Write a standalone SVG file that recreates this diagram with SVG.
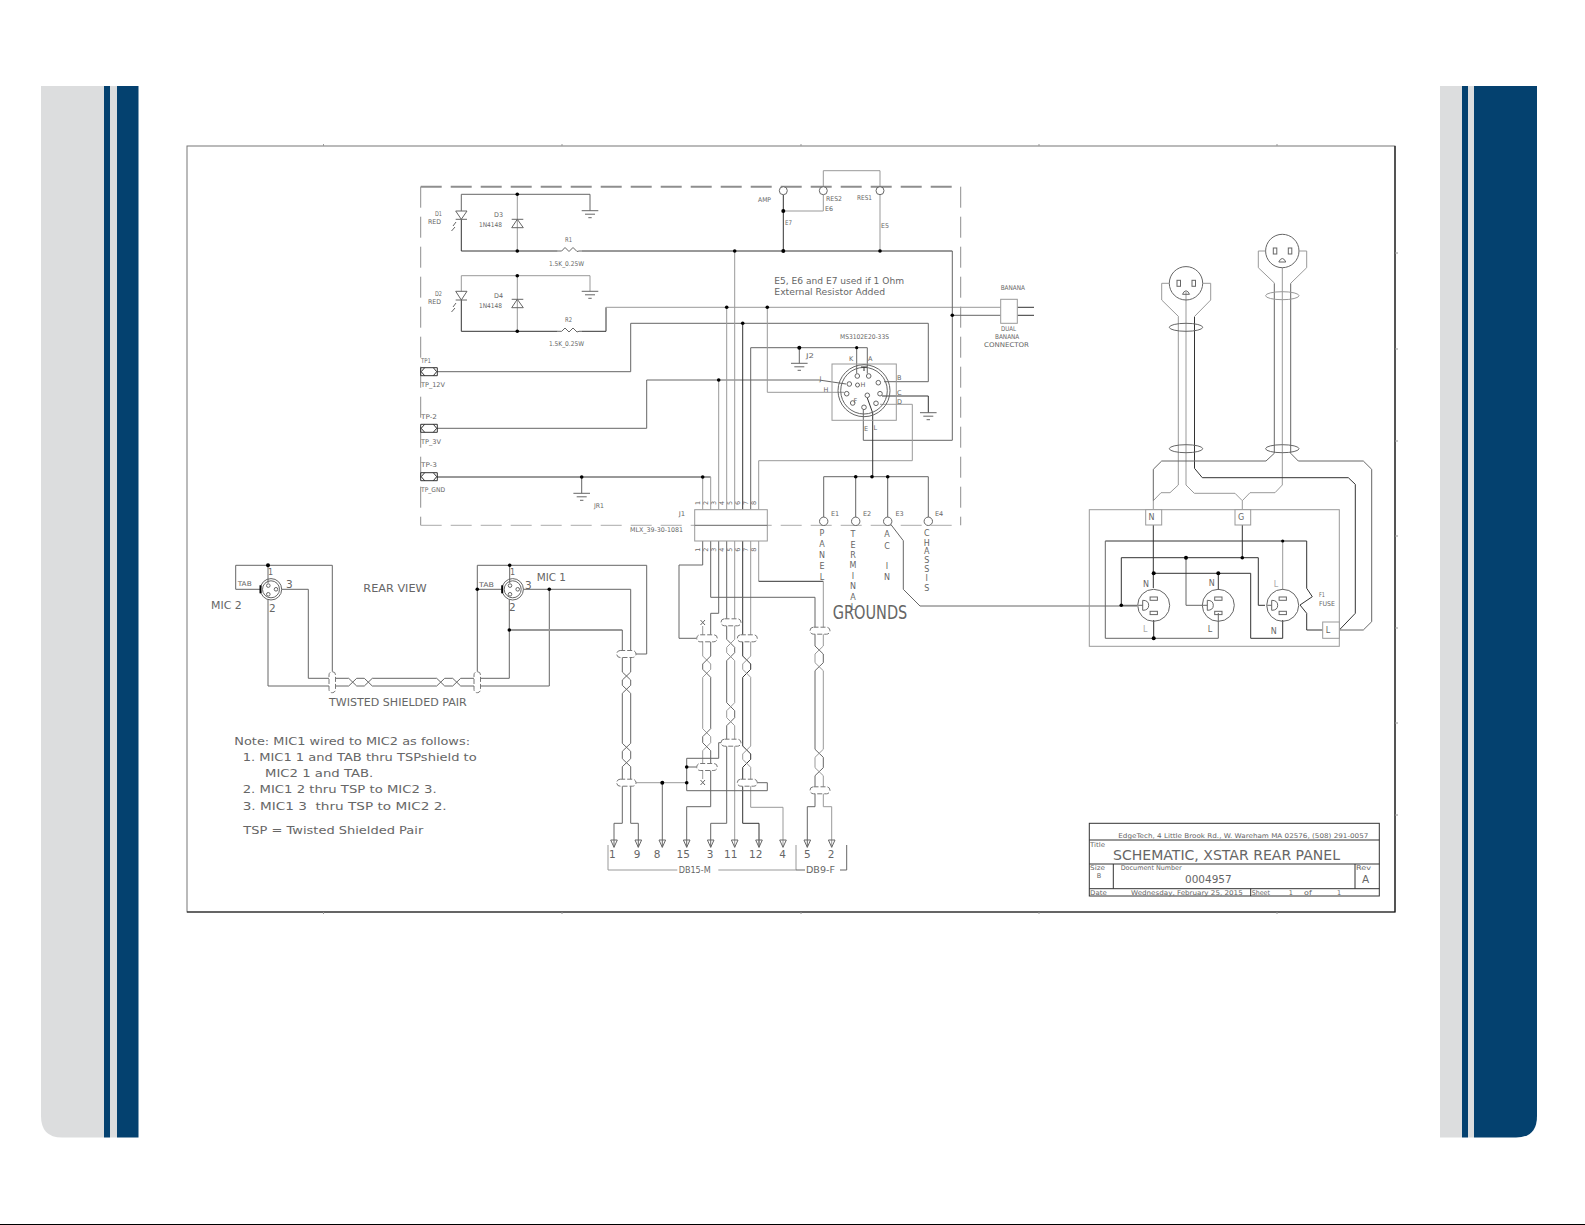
<svg xmlns="http://www.w3.org/2000/svg" width="1585" height="1225" viewBox="0 0 1585 1225">
<style>
.n{fill:none;stroke:#666;stroke-width:1}
.l{fill:none;stroke:#999;stroke-width:1}
.k{fill:none;stroke:#333;stroke-width:1}
.c{fill:#fff;stroke:#666;stroke-width:1}
.w{fill:#fff;stroke:#999;stroke-width:1}
.sh{fill:#fff;stroke:#777;stroke-width:1;stroke-dasharray:5 2}
.dot{fill:#000;stroke:none}
.gray{fill:#dcddde}
.blue{fill:#04416f}
text{font-family:"DejaVu Sans","Liberation Sans",sans-serif;fill:#666}
.s{font-size:6.5px}
.m{font-size:8px}
.b{font-size:10.5px}
.h{font-size:14px}
.g{font-size:19px}
.mid{text-anchor:middle}
.p{fill:#aaa}
</style>
<defs>
<g id="gnd"><path class="n" d="M-8.3 0H8.3M-5 3.5H5M-1.7 7H1.7"/></g>
<g id="tp"><path class="k" d="M0 -4H16.6V4H0ZM4 -4L0.5 0L4 4M12.6 -4L16 0L12.6 4"/></g>
<g id="sock"><circle class="n" r="16"/><rect class="n" x="-3.6" y="-8.3" width="7.3" height="3.3"/><rect class="n" x="-3.6" y="6" width="7.3" height="3.3"/><path class="n" d="M-15.5 0H-11M-11 -5V5M-11 -5Q-5 -5 -5 0Q-5 5 -11 5"/></g>
<g id="plug"><circle class="n" r="16.7"/><rect class="n" x="-9" y="-3" width="3.5" height="6"/><rect class="n" x="6" y="-3" width="3.5" height="6"/><path class="n" d="M-3.5 11H3.5Q2 7.5 0 7.5Q-2 7.5 -3.5 11Z"/></g>
<g id="xlr"><circle class="n" r="10.7"/><circle class="n" r="8.5"/><circle class="n" cx="-2.7" cy="-3.7" r="1.8"/><circle class="n" cx="-2.7" cy="5" r="1.8"/><circle class="n" cx="5" cy="0" r="1.8"/><path d="M-10.5 -4V4" stroke="#000" stroke-width="2" fill="none"/></g>
<marker id="ah" markerUnits="userSpaceOnUse" markerWidth="10" markerHeight="10" refX="7.3" refY="4" orient="auto" overflow="visible"><path d="M0 0.7L7.3 4L0 7.3Z" fill="none" stroke="#666" stroke-width="1"/></marker>
</defs>

<g id="page">
<path class="gray" d="M41 86H104V1137.5H62Q41 1137.5 41 1116Z"/>
<rect class="blue" x="104" y="86" width="6" height="1051.5"/>
<rect class="gray" x="110" y="86" width="7" height="1051.5"/>
<rect class="blue" x="117" y="86" width="21.5" height="1051.5"/>
<rect class="gray" x="1440" y="86" width="22" height="1051.5"/>
<rect class="blue" x="1462" y="86" width="6" height="1051.5"/>
<rect class="gray" x="1468" y="86" width="6" height="1051.5"/>
<path class="blue" d="M1474 86H1537V1116Q1537 1137.5 1516 1137.5H1474Z"/>
<rect x="0" y="1224" width="1585" height="1" fill="#000"/>
</g>

<g id="frame">
<rect x="187" y="146" width="1208" height="766" fill="#fff" stroke="#777" stroke-width="1"/>
<path d="M1395 146V912H187" fill="none" stroke="#111" stroke-width="1.2"/>
<path class="l" d="M323.5 144V146M562 144V146M801 144V146M1039 144V146M1277 144V146M323.5 912V914M562 912V914M801 912V914M1039 912V914M1277 912V914M1395 253H1398M1395 349H1398M1395 441H1398M1395 536H1398M1395 628H1398M1395 723H1398M1395 815H1398"/>
<path d="M420.7 186.7H960.7" stroke="#8e8e8e" stroke-width="2" stroke-dasharray="21 9" fill="none"/>
<path d="M420.7 186.7V525.3M960.7 186.7V525.3" stroke="#8e8e8e" stroke-width="1" stroke-dasharray="21 9" fill="none"/>
<path d="M420.7 525.3H960.7" stroke="#aaa" stroke-width="1" stroke-dasharray="21 9" fill="none"/>
</g>

<g id="connectors">
<path class="n" d="M461.3 211V194.3H590V210.7"/>
<path class="k" d="M461.3 219.3V251H557.7M582 251H952.3"/>
<path class="l" d="M517.3 194.3V251"/>
<path class="l" d="M461.3 291.3V275.7H590V291.3"/>
<path class="k" d="M461.3 300V331.3H557.7M582 331.3H606V307.3"/>
<path class="l" d="M517.3 275.7V331.3"/>
<path class="l" d="M606 307.3H1000.7"/>
<path class="n" d="M952.3 315.3H1000.7"/>
<path class="n" d="M952.3 251V440.3H863.3V410"/>
<path class="k" d="M1017.3 307.3H1034M1017.3 315.3H1034"/>
<path class="n" d="M436.7 371.7H630.7V323.3H928.3V381.7H884"/>
<path class="n" d="M436.7 428.3H646.7V380H819L846 384"/>
<path class="k" d="M436.7 477H710.7"/>
<path class="n" d="M581.7 477V493.3"/>
<path class="l" d="M702.7 477V509.7M710.7 477V509.7M718.7 380V509.7M726.7 307.3V509.7M734.7 251V509.7"/>
<path class="k" d="M742.7 323.3V509.7"/>
<path class="n" d="M750.7 509.7V347.7H867.3V373.5M856.7 347.7V373.5"/>
<path class="n" d="M799.3 347.7V363.3"/>
<path class="l" d="M758.7 509.7V460.7H912.3V404.3H880"/>
<path class="l" d="M767.3 307.3V392.3H844"/>
<path class="k" d="M882 396H928.3V412.7"/>
<path class="k" d="M867.3 398L872.7 413V476.7"/>
<path class="n" d="M823.7 517V476.7H928.3V517M855.7 476.7V517M887.7 476.7V517"/>
<path class="n" d="M890.5 524L903.3 540.7V589.3L920 606H1137"/>
<path class="k" d="M783.3 195V251"/>
<path class="l" d="M783.3 211H823.3V195M823.3 186V170.7H880V186M880 195V251"/>
<path class="n" d="M235.7 589.3V565.3H332.3V671.7M235.7 589.3H260M268 565.3V583"/>
<path class="n" d="M281.7 589.3H308.3V678.3H348.7L356.7 686H364.3L372.3 678.3H436.7L444.7 686H452.7L460.7 678.3H509.3V600"/>
<path class="n" d="M268 600V686H348.7L356.7 678.3H364.3L372.3 686H436.7L444.7 678.3H452.7L460.7 686H549.3V589.3"/>
<path class="n" d="M477.3 671.7V565.3H646.7V654H636"/>
<path class="n" d="M477.3 589.3H501.7M509.7 565.3V583"/>
<path d="M509.3 630H622.3" stroke="#999" stroke-width="2" fill="none"/>
<path class="n" d="M622.3 630V672L630.7 680V685.3L622.3 693.3V743.3L630.7 751.3V758.7L622.3 766.7V823.3H614V847.3" marker-end="url(#ah)"/>
<path class="n" d="M523.3 589.3H630.7V672L622.3 680V685.3L630.7 693.3V743.3L622.3 751.3V758.7L630.7 766.7V823.3H638.3V847.3" marker-end="url(#ah)"/>
<path class="l" d="M702.7 626V656L710.7 664V669.3L702.7 677.3V728.7L710.7 736.7V742.7L702.7 750.7V779"/>
<path class="n" d="M718.7 541V613.3H710.7V656L702.7 664V669.3L710.7 677.3V728.7L702.7 736.7V742.7L710.7 750.7V806.7H686.7V847.3" marker-end="url(#ah)"/>
<path class="n" d="M726.7 541V639.3L734.7 647.3V652.7L726.7 660.7V702.7L734.7 710.7V717.7L726.7 725.7V823.3H710.7V847.3" marker-end="url(#ah)"/>
<path class="l" d="M734.7 541V639.3L726.7 647.3V652.7L734.7 660.7V702.7L726.7 710.7V717.7L734.7 725.7V847.3" marker-end="url(#ah)"/>
<path class="k" d="M742.7 541V656L750.7 664V669.3L742.7 677.3V746L750.7 754V759.3L742.7 767.3V823.3H759V847.3" marker-end="url(#ah)"/>
<path class="l" d="M750.7 541V656L742.7 664V669.3L750.7 677.3V746L742.7 754V759.3L750.7 767.3V807.3H783V847.3" marker-end="url(#ah)"/>
<path class="n" d="M710.7 541V597.3H815V646L823.3 654V662.7L815 670.7V749.3L823.3 757.3V767.7L815 775.7V806.7H807.3V847.3" marker-end="url(#ah)"/>
<path class="l" d="M758.7 541V581.3"/>
<path class="k" d="M758.7 581.3H823.3"/>
<path class="l" d="M823.3 581.3V646L815 654V662.7L823.3 670.7V749.3L815 757.3V767.7L823.3 775.7V806.7H831.7V847.3" marker-end="url(#ah)"/>
<path class="n" d="M702.7 541V565H679V638.3H696.7"/>
<path class="l" d="M636 782.7H686.7"/>
<path class="n" d="M662.3 782.7V847.3" marker-end="url(#ah)"/>
<path class="n" d="M686.7 782.7V790.7H767.3V782.7H757M686.7 782.7V758.3H718.7V742.7H721M686.7 767H696.7"/>
<path class="l" d="M1178.3 316.7V485L1170 492.7H1161L1153.3 500.7V509.7"/>
<path class="l" d="M1186 292V485L1194.3 493.3H1235L1242.3 500.7L1250 492.7H1275L1282.3 485V268"/>
<path class="k" d="M1194.5 316.7V468.3L1202.3 477.7H1348.3L1355.3 484.3V613.3L1339.3 630"/>
<path class="n" d="M1153.3 500.7V469.3L1161.7 461H1266L1274.3 453.3V283.3"/>
<path class="n" d="M1290.7 283.3V453.3L1298.3 461H1363.3L1371.7 469.3V621.7L1363.3 630H1339.3"/>
<path class="l" d="M1242.3 500.7V509.7"/>
<path class="k" d="M1153.3 525V588M1242.3 525V557.7"/>
<path class="k" d="M1105.3 541H1306.7V588.3L1312.3 596.7L1300 605L1306.7 613.3V630H1322.7"/>
<path class="n" d="M1105.3 541V638.3H1218.3V613"/>
<path class="k" d="M1153.7 620V638.3"/>
<path class="l" d="M1282.7 541V590"/>
<path class="k" d="M1121.3 605.3V557.7H1258.3V605.3H1265"/>
<path class="n" d="M1186 557.7V605.3H1202.7M1121.3 605.3H1137.3"/>
<path class="k" d="M1153.7 573.3H1250.7V638.3H1282.7V620M1218.3 573.3V590"/>
<g id="junctions">
<circle class="dot" cx="517.3" cy="194.3" r="1.8"/><circle class="dot" cx="517.3" cy="251" r="1.8"/>
<circle class="dot" cx="517.3" cy="275.7" r="1.8"/><circle class="dot" cx="517.3" cy="331.3" r="1.8"/>
<circle class="dot" cx="726.7" cy="307.3" r="1.8"/><circle class="dot" cx="734.7" cy="251" r="1.8"/>
<circle class="dot" cx="767.3" cy="307.3" r="1.8"/><circle class="dot" cx="783.3" cy="211" r="2"/>
<circle class="dot" cx="783.3" cy="251" r="2"/><circle class="dot" cx="880" cy="251" r="1.8"/>
<circle class="dot" cx="952.3" cy="315.3" r="1.8"/><circle class="dot" cx="742.7" cy="323.3" r="1.8"/>
<circle class="dot" cx="718.7" cy="380" r="1.8"/><circle class="dot" cx="581.7" cy="477" r="1.8"/>
<circle class="dot" cx="702.7" cy="477" r="1.8"/><circle class="dot" cx="799.3" cy="347.7" r="2"/>
<circle class="dot" cx="856.7" cy="347.7" r="1.6"/><circle class="dot" cx="855.7" cy="476.7" r="1.8"/>
<circle class="dot" cx="872" cy="476.7" r="1.8"/><circle class="dot" cx="887.7" cy="476.7" r="1.8"/>
<circle class="dot" cx="268" cy="565.3" r="2"/><circle class="dot" cx="509.7" cy="565.3" r="1.8"/>
<circle class="dot" cx="477.3" cy="589.3" r="1.8"/><circle class="dot" cx="549.3" cy="589.3" r="1.8"/>
<circle class="dot" cx="509.3" cy="630" r="1.8"/><circle class="dot" cx="662.3" cy="782.7" r="2"/>
<circle class="dot" cx="686.7" cy="782.7" r="1.8"/><circle class="dot" cx="686.7" cy="767" r="1.8"/>
<circle class="dot" cx="1121.3" cy="605.3" r="1.8"/><circle class="dot" cx="1186" cy="557.7" r="2"/>
<circle class="dot" cx="1242.3" cy="557.7" r="1.8"/><circle class="dot" cx="1153.7" cy="573.3" r="2"/>
<circle class="dot" cx="1218.3" cy="573.3" r="2"/><circle class="dot" cx="1153.7" cy="638.3" r="2"/>
<circle class="dot" cx="1282.7" cy="541" r="1.6"/>
</g>
</g>

<g id="D1"><path class="n" d="M455.7 211H467L461.3 219.3ZM455.7 219.3H467"/><path class="n" d="M453 226L456 222M451.5 231L455 227"/>
<text class="s" x="435" y="216.4" textLength="7" lengthAdjust="spacingAndGlyphs">D1</text><text class="s" x="428" y="224.4" textLength="13" lengthAdjust="spacingAndGlyphs">RED</text></g>
<g id="D3"><path class="n" d="M511.7 219.3H523.3M517.3 219.3L511.7 227.7H523.3Z"/>
<text class="s" x="494" y="217.4" textLength="9" lengthAdjust="spacingAndGlyphs">D3</text><text class="s" x="479" y="227.4" textLength="23" lengthAdjust="spacingAndGlyphs">1N4148</text></g>
<g id="R1"><path class="n" d="M557.7 251L561.7 251L565 247.5L569 251.5L573 247.5L577 251.5L579 251H582"/>
<text class="s" x="565" y="241.9" textLength="7" lengthAdjust="spacingAndGlyphs">R1</text><text class="s" x="549" y="266.4" textLength="35" lengthAdjust="spacingAndGlyphs">1.5K_0.25W</text></g>
<use href="#gnd" x="590" y="210.7"/>
<g id="D2"><path class="n" d="M455.7 291.3H467L461.3 300ZM455.7 300H467"/><path class="n" d="M453 307L456 303M451.5 312L455 308"/>
<text class="s" x="435" y="296.4" textLength="7" lengthAdjust="spacingAndGlyphs">D2</text><text class="s" x="428" y="304.4" textLength="13" lengthAdjust="spacingAndGlyphs">RED</text></g>
<g id="D4"><path class="n" d="M511.7 299.3H523.3M517.3 299.3L511.7 307.7H523.3Z"/>
<text class="s" x="494" y="298.4" textLength="9" lengthAdjust="spacingAndGlyphs">D4</text><text class="s" x="479" y="308.4" textLength="23" lengthAdjust="spacingAndGlyphs">1N4148</text></g>
<g id="R2"><path class="n" d="M557.7 331.3L561.7 331.3L565 328L569 332L573 328L577 332L579 331.3H582"/>
<text class="s" x="565" y="322.4" textLength="7" lengthAdjust="spacingAndGlyphs">R2</text><text class="s" x="549" y="346.4" textLength="35" lengthAdjust="spacingAndGlyphs">1.5K_0.25W</text></g>
<use href="#gnd" x="590" y="291.3"/>
<g id="TP1"><use href="#tp" x="420.7" y="371.7"/><text class="s" x="421" y="362.7" textLength="10" lengthAdjust="spacingAndGlyphs">TP1</text><text class="s" x="421" y="387.4" textLength="24" lengthAdjust="spacingAndGlyphs">TP_12V</text></g>
<g id="TP2"><use href="#tp" x="420.7" y="428.3"/><text class="s" x="421" y="419.4" textLength="16" lengthAdjust="spacingAndGlyphs">TP-2</text><text class="s" x="421" y="443.7" textLength="20" lengthAdjust="spacingAndGlyphs">TP_3V</text></g>
<g id="TP3"><use href="#tp" x="420.7" y="476.7"/><text class="s" x="421" y="467.4" textLength="16" lengthAdjust="spacingAndGlyphs">TP-3</text><text class="s" x="421" y="492.1" textLength="24" lengthAdjust="spacingAndGlyphs">TP_GND</text></g>
<g id="JR1"><use href="#gnd" x="581.7" y="493.3"/><text class="s" x="594" y="508.1" textLength="10" lengthAdjust="spacingAndGlyphs">JR1</text></g>
<g id="J2"><use href="#gnd" x="799.3" y="363.3"/><text class="s" x="806" y="358" textLength="8" lengthAdjust="spacingAndGlyphs">J2</text></g>
<g id="J1">
<rect class="w" x="694.7" y="509.7" width="72.6" height="31.3"/>
<path class="n" d="M694.7 525.3H767.3"/>
<text class="s" x="678.7" y="516.1" textLength="6.5" lengthAdjust="spacingAndGlyphs">J1</text><text class="s" x="630" y="532.1" textLength="53" lengthAdjust="spacingAndGlyphs">MLX_39-30-1081</text>
<text class="s mid" transform="rotate(-90 700.4 503)" x="700.4" y="503">1</text>
<text class="s mid" transform="rotate(-90 708.4 503)" x="708.4" y="503">2</text>
<text class="s mid" transform="rotate(-90 716.4 503)" x="716.4" y="503">3</text>
<text class="s mid" transform="rotate(-90 724.4 503)" x="724.4" y="503">4</text>
<text class="s mid" transform="rotate(-90 732.4 503)" x="732.4" y="503">5</text>
<text class="s mid" transform="rotate(-90 740.4 503)" x="740.4" y="503">6</text>
<text class="s mid" transform="rotate(-90 748.4 503)" x="748.4" y="503">7</text>
<text class="s mid" transform="rotate(-90 756.4 503)" x="756.4" y="503">8</text>
<text class="s mid" transform="rotate(-90 700.4 549.7)" x="700.4" y="549.7">1</text>
<text class="s mid" transform="rotate(-90 708.4 549.7)" x="708.4" y="549.7">2</text>
<text class="s mid" transform="rotate(-90 716.4 549.7)" x="716.4" y="549.7">3</text>
<text class="s mid" transform="rotate(-90 724.4 549.7)" x="724.4" y="549.7">4</text>
<text class="s mid" transform="rotate(-90 732.4 549.7)" x="732.4" y="549.7">5</text>
<text class="s mid" transform="rotate(-90 740.4 549.7)" x="740.4" y="549.7">6</text>
<text class="s mid" transform="rotate(-90 748.4 549.7)" x="748.4" y="549.7">7</text>
<text class="s mid" transform="rotate(-90 756.4 549.7)" x="756.4" y="549.7">8</text>
</g>
<g id="jumpers">
<circle class="c" cx="783.3" cy="190.7" r="4"/><circle class="c" cx="823.3" cy="190.7" r="4"/><circle class="c" cx="880" cy="190.7" r="4"/>
<text class="s" x="758" y="201.7" textLength="13" lengthAdjust="spacingAndGlyphs">AMP</text><text class="s" x="826" y="200.7" textLength="16" lengthAdjust="spacingAndGlyphs">RES2</text><text class="s" x="825" y="211.4" textLength="8" lengthAdjust="spacingAndGlyphs">E6</text><text class="s" x="857" y="200.1" textLength="15" lengthAdjust="spacingAndGlyphs">RES1</text><text class="s" x="785" y="225.1" textLength="7" lengthAdjust="spacingAndGlyphs">E7</text><text class="s" x="881" y="227.7" textLength="8" lengthAdjust="spacingAndGlyphs">E5</text>
<text class="m" x="774.3" y="283.6" textLength="129.7" lengthAdjust="spacingAndGlyphs">E5, E6 and E7 used if 1 Ohm</text>
<text class="m" x="774.3" y="295.2" textLength="110.7" lengthAdjust="spacingAndGlyphs">External Resistor Added</text>
</g>
<g id="banana"><rect class="w" x="1000.7" y="299.3" width="16.6" height="24"/>
<text class="s" x="1000.7" y="290.4" textLength="24.3" lengthAdjust="spacingAndGlyphs">BANANA</text>
<text class="s" x="1001" y="331.4" textLength="15" lengthAdjust="spacingAndGlyphs">DUAL</text><text class="s" x="995" y="339.4" textLength="24.3" lengthAdjust="spacingAndGlyphs">BANANA</text><text class="s" x="984" y="347.4" textLength="45" lengthAdjust="spacingAndGlyphs">CONNECTOR</text></g>
<g id="MS3102">
<rect class="l" x="832" y="364" width="64.3" height="56.3"/>
<circle class="n" cx="864" cy="390.7" r="26"/><circle class="n" cx="864" cy="390.7" r="23.3"/>
<path class="k" d="M861 367H867M864 367V371"/>
<circle class="c" cx="868.7" cy="376" r="2.3"/><circle class="c" cx="857.3" cy="376" r="2.3"/><circle class="c" cx="849.3" cy="384" r="2.3"/><circle class="c" cx="857.5" cy="385" r="2"/><circle class="c" cx="846.7" cy="393.7" r="2.3"/><circle class="c" cx="852.7" cy="403" r="2.3"/><circle class="c" cx="864" cy="407.3" r="2.3"/><circle class="c" cx="867.3" cy="395.3" r="2.3"/><circle class="c" cx="876" cy="403.3" r="2.3"/><circle class="c" cx="880" cy="393.7" r="2.3"/><circle class="c" cx="878.3" cy="382.7" r="2.3"/>
<text class="s" x="840" y="339.1" textLength="49" lengthAdjust="spacingAndGlyphs">MS3102E20-33S</text>
<text class="s" x="849" y="361.4">K</text><text class="s" x="868" y="361.4">A</text><text class="s" x="897" y="380.1">B</text><text class="s" x="897" y="395.1">C</text><text class="s" x="897" y="403.7">D</text><text class="s" x="819.5" y="381.4">J</text><text class="s" x="823.5" y="391.7">H</text><text class="s" x="860.5" y="387.4">H</text><text class="s" x="853.5" y="403">F</text><text class="s" x="864" y="431.1">E</text><text class="s" x="873.5" y="429.7">L</text>
<use href="#gnd" x="928.3" y="412.7"/>
</g>
<g id="E1"><circle class="c" cx="823.7" cy="521.3" r="4.2"/><text class="s" x="831" y="516.4">E1</text>
<text class="m mid" x="822" y="536.3">P</text><text class="m mid" x="822" y="547">A</text><text class="m mid" x="822" y="558">N</text><text class="m mid" x="822" y="569.3">E</text><text class="m mid" x="822" y="580.3">L</text></g>
<g id="E2"><circle class="c" cx="855.7" cy="521.3" r="4.2"/><text class="s" x="863" y="516.4">E2</text>
<text class="m mid" x="853" y="537">T</text><text class="m mid" x="853" y="548">E</text><text class="m mid" x="853" y="558">R</text><text class="m mid" x="853" y="568.3">M</text><text class="m mid" x="853" y="579">I</text><text class="m mid" x="853" y="589">N</text><text class="m mid" x="853" y="599.7">A</text><text class="m mid" x="853" y="609.7">L</text></g>
<g id="E3"><circle class="c" cx="887.7" cy="521.3" r="4.2"/><text class="s" x="895.5" y="516.4">E3</text>
<text class="m mid" x="887" y="537">A</text><text class="m mid" x="887" y="548.7">C</text><text class="m mid" x="887" y="569">I</text><text class="m mid" x="887" y="580">N</text></g>
<g id="E4"><circle class="c" cx="928.3" cy="521.3" r="4.2"/><text class="s" x="935" y="516.4">E4</text>
<text class="m mid" x="926.7" y="536.3">C</text><text class="m mid" x="926.7" y="545.7">H</text><text class="m mid" x="926.7" y="554.3">A</text><text class="m mid" x="926.7" y="563">S</text><text class="m mid" x="926.7" y="572">S</text><text class="m mid" x="926.7" y="581">I</text><text class="m mid" x="926.7" y="590.7">S</text></g>
<text class="g" x="832.7" y="618.5" textLength="74.6" lengthAdjust="spacingAndGlyphs">GROUNDS</text>

<g id="MIC2"><use href="#xlr" x="271" y="589.3"/>
<text class="s" x="237.7" y="586.4" textLength="14" lengthAdjust="spacingAndGlyphs">TAB</text><text class="m" x="268" y="574.5">1</text><text class="b" x="286" y="588.3">3</text><text class="b" x="269" y="612.3">2</text>
<text class="b" x="211" y="609" textLength="30.7" lengthAdjust="spacingAndGlyphs">MIC 2</text></g>
<g id="MIC1"><use href="#xlr" x="512.7" y="589.3"/>
<text class="s" x="479" y="587.4" textLength="15" lengthAdjust="spacingAndGlyphs">TAB</text><text class="m" x="510" y="575">1</text><text class="b" x="525" y="589">3</text><text class="b" x="509" y="611.3">2</text>
<text class="b" x="536.7" y="581.3" textLength="29.3" lengthAdjust="spacingAndGlyphs">MIC 1</text></g>
<text class="b" x="363.3" y="591.7" textLength="63.4" lengthAdjust="spacingAndGlyphs">REAR VIEW</text>
<text class="b" x="329" y="705.7" textLength="137.7" lengthAdjust="spacingAndGlyphs">TWISTED SHIELDED PAIR</text>
<g id="shields">
<rect class="sh" x="329" y="671.7" width="6.5" height="21" rx="3.2"/>
<rect class="sh" x="474" y="671.7" width="6.5" height="21" rx="3.2"/>
<rect class="sh" x="616.7" y="650.5" width="19.3" height="7" rx="3.5"/><rect class="sh" x="616.7" y="779.2" width="19.3" height="7" rx="3.5"/>
<rect class="sh" x="696.7" y="634.8" width="20.6" height="7" rx="3.5"/><rect class="sh" x="696.7" y="763.5" width="20.6" height="7" rx="3.5"/>
<rect class="sh" x="721" y="618.8" width="20" height="7" rx="3.5"/><rect class="sh" x="721" y="739.2" width="20" height="7" rx="3.5"/>
<rect class="sh" x="737.3" y="634.8" width="20" height="7" rx="3.5"/><rect class="sh" x="737.3" y="779.2" width="20" height="7" rx="3.5"/>
<rect class="sh" x="810" y="627.2" width="20" height="7" rx="3.5"/><rect class="sh" x="810" y="786.8" width="20" height="7" rx="3.5"/>
<path class="n" d="M700.5 620L705 625M705 620L700.5 625M700.5 780L705 785M705 780L700.5 785"/>
</g>
<g id="DB15">
<text class="b mid" x="612.3" y="858">1</text><text class="b mid" x="637" y="858">9</text><text class="b mid" x="657" y="858">8</text><text class="b mid" x="683.3" y="858">15</text><text class="b mid" x="710" y="858">3</text><text class="b mid" x="730.7" y="858">11</text><text class="b mid" x="755.7" y="858">12</text><text class="b mid" x="782.7" y="858">4</text>
<path class="l" d="M608 845V870H677.3M718.3 870H796V845"/>
<text class="m" x="678.7" y="872.7" textLength="32" lengthAdjust="spacingAndGlyphs">DB15-M</text></g>
<g id="DB9"><text class="b mid" x="807.3" y="858">5</text><text class="b mid" x="831" y="858">2</text>
<path class="n" d="M796 870H805M840 870H846.7V845"/>
<text class="m" x="806" y="872.7" textLength="29" lengthAdjust="spacingAndGlyphs">DB9-F</text></g>

<g id="plugs">
<use href="#plug" x="1186" y="283.3"/>
<path class="l" d="M1169.3 283.3H1161.7V300L1178.7 316.7M1202.7 283.3H1210.7V300L1194.3 316.7"/>
<ellipse class="n" cx="1186" cy="327.3" rx="16.7" ry="4"/><ellipse class="n" cx="1186" cy="448.7" rx="16.7" ry="4"/>
<use href="#plug" x="1282.3" y="251"/>
<path class="l" d="M1265.6 251H1258.3V267.7L1274.7 283.3M1299 251H1306.7V267.7L1290.7 283.3"/>
<ellipse class="l" cx="1282.3" cy="295.7" rx="16.7" ry="4"/><ellipse class="n" cx="1282.3" cy="448.7" rx="16.7" ry="4"/>
</g>
<g id="enclosure">
<rect class="l" x="1089.3" y="509.7" width="250" height="136.6"/>
<rect class="w" x="1145.7" y="509.7" width="16" height="15.3"/><text class="m mid" x="1151.5" y="520.3">N</text>
<rect class="w" x="1235" y="509.7" width="15.7" height="15.3"/><text class="m mid" x="1241" y="520.3">G</text>
<rect class="w" x="1322.7" y="622" width="16.6" height="16.3"/><text class="m mid" x="1328" y="633">L</text>
<text class="s" x="1319" y="596.7" textLength="6" lengthAdjust="spacingAndGlyphs">F1</text><text class="s" x="1319" y="606.4" textLength="16" lengthAdjust="spacingAndGlyphs">FUSE</text>
</g>
<g id="S1"><use href="#sock" x="1153.7" y="605.3"/><text class="m mid" x="1146" y="586.7">N</text><text class="m mid p" x="1145.3" y="632">L</text></g>
<g id="S2"><use href="#sock" x="1218.3" y="605.3"/><text class="m mid" x="1211.7" y="586">N</text><text class="m mid" x="1210" y="632">L</text></g>
<g id="S3"><use href="#sock" x="1282.7" y="605.3"/><text class="m mid p" x="1276" y="587">L</text><text class="m mid" x="1273.7" y="634">N</text></g>

<g id="note">
<text class="b" x="234.3" y="745" textLength="235.7" lengthAdjust="spacingAndGlyphs">Note: MIC1 wired to MIC2 as follows:</text>
<text class="b" x="242.7" y="761.3" textLength="234" lengthAdjust="spacingAndGlyphs">1. MIC1 1 and TAB thru TSPshield to</text>
<text class="b" x="265" y="776.7" textLength="108.3" lengthAdjust="spacingAndGlyphs">MIC2 1 and TAB.</text>
<text class="b" x="242.7" y="793.3" textLength="194" lengthAdjust="spacingAndGlyphs">2. MIC1 2 thru TSP to MIC2 3.</text>
<text class="b" x="242.7" y="810" textLength="204" lengthAdjust="spacingAndGlyphs" xml:space="preserve">3. MIC1 3  thru TSP to MIC2 2.</text>
<text class="b" x="243.3" y="834" textLength="180" lengthAdjust="spacingAndGlyphs">TSP = Twisted Shielded Pair</text>
</g>
<g id="titleblock">
<rect class="k" x="1089.3" y="823.3" width="290" height="72.7"/>
<path class="k" d="M1089.3 840H1379.3M1089.3 864H1379.3M1089.3 888.7H1379.3M1113.3 864V888.7M1355 864V888.7M1250.7 888.7V896"/>
<text class="s" x="1118.3" y="837.7" textLength="250" lengthAdjust="spacingAndGlyphs">EdgeTech, 4 Little Brook Rd., W. Wareham MA 02576, (508) 291-0057</text>
<text class="s" x="1090" y="846.7" textLength="15" lengthAdjust="spacingAndGlyphs">Title</text>
<text class="h" x="1113" y="860" textLength="227" lengthAdjust="spacingAndGlyphs">SCHEMATIC, XSTAR REAR PANEL</text>
<text class="s" x="1090" y="870.1" textLength="15" lengthAdjust="spacingAndGlyphs">Size</text><text class="s mid" x="1099" y="878.4">B</text>
<text class="s" x="1120.7" y="870.1" textLength="61" lengthAdjust="spacingAndGlyphs">Document Number</text>
<text class="b" x="1185" y="882.7" textLength="46.7" lengthAdjust="spacingAndGlyphs">0004957</text>
<text class="s" x="1356" y="870.1" textLength="15" lengthAdjust="spacingAndGlyphs">Rev</text><text class="b mid" x="1365.7" y="882.7">A</text>
<text class="s" x="1090" y="894.7" textLength="16.7" lengthAdjust="spacingAndGlyphs">Date</text>
<text class="s" x="1131" y="894.7" textLength="111.7" lengthAdjust="spacingAndGlyphs">Wednesday, February 25, 2015</text>
<text class="s" x="1251.7" y="894.7" textLength="18.3" lengthAdjust="spacingAndGlyphs">Sheet</text><text class="s mid" x="1290.7" y="894.7">1</text><text class="s" x="1304" y="894.7" textLength="7.7" lengthAdjust="spacingAndGlyphs">of</text><text class="s mid" x="1339" y="894.7">1</text>
</g>
</svg>
